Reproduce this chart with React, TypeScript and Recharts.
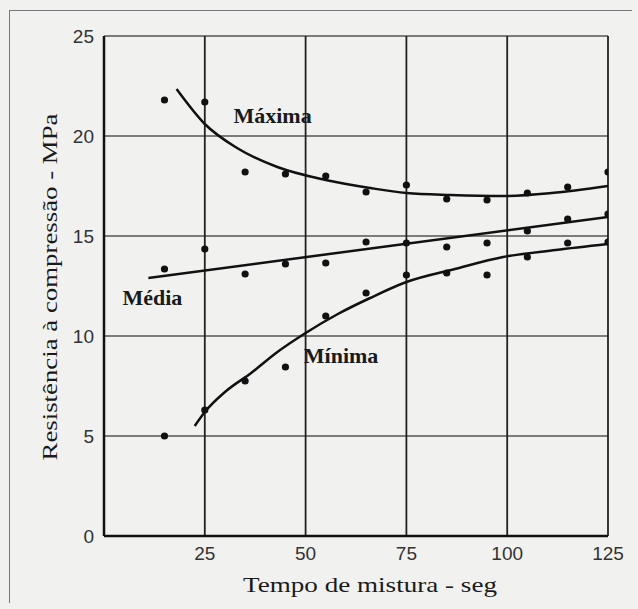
import React from "react";
import {
  ComposedChart,
  Line,
  Scatter,
  XAxis,
  YAxis,
  CartesianGrid,
  ReferenceDot,
} from "recharts";

// measured mixing times (s)
const tempos = [15, 25, 35, 45, 55, 65, 75, 85, 95, 105, 115, 125];

// compressive strength readings (MPa)
const maxima = [21.8, 21.7, 18.2, 18.1, 18.0, 17.2, 17.55, 16.85, 16.8, 17.15, 17.45, 18.2];
const media = [13.35, 14.35, 13.1, 13.6, 13.65, 14.7, 14.65, 14.45, 14.65, 15.25, 15.85, 16.1];
const minima = [5.0, 6.3, 7.75, 8.45, 11.0, 12.15, 13.05, 13.15, 13.05, 13.95, 14.65, 14.7];

// fitted curves
const maxCurveX = [18, 25, 33, 43, 55, 66, 75, 86, 99, 111, 125];
const maxCurveY = [22.35, 20.6, 19.4, 18.45, 17.8, 17.4, 17.15, 17.05, 17.0, 17.15, 17.5];
const medCurveX = [11, 125];
const medCurveY = [12.9, 15.95];
const minCurveX = [22.5, 25, 30, 36.5, 43, 50, 58, 66, 75, 87, 99, 112, 125];
const minCurveY = [5.5, 6.2, 7.2, 8.15, 9.2, 10.15, 11.1, 11.9, 12.7, 13.35, 13.95, 14.3, 14.6];

const xTicks = [25, 50, 75, 100, 125];
const yTicks = [0, 5, 10, 15, 20, 25];

const pts = (xs: number[], ys: number[]) => xs.map((x, i) => ({ x, y: ys[i] }));

const serif = "'Liberation Serif', 'Times New Roman', serif";
const sans = "'Liberation Sans', Arial, sans-serif";

const Dot = (props: any) => <circle cx={props.cx} cy={props.cy} r={3.6} fill="#111" />;

const seriesLabel = (value: string) => ({
  value,
  position: "center" as const,
  fill: "#1a1a1a",
  fontFamily: serif,
  fontSize: 22,
  fontWeight: 700,
});

// axis titles are set a little wider than the font's natural width
const XTitle = ({ viewBox }: any) => (
  <text
    x={viewBox.x + viewBox.width / 2 + 14}
    y={viewBox.y + 56}
    textAnchor="middle"
    fontFamily={serif}
    fontSize={21}
    fill="#1a1a1a"
    textLength={254}
    lengthAdjust="spacingAndGlyphs"
  >
    Tempo de mistura - seg
  </text>
);

const YTitle = ({ viewBox }: any) => {
  const x = 57;
  const y = viewBox.y + viewBox.height / 2 + 1;
  return (
    <text
      x={x}
      y={y}
      transform={`rotate(-90, ${x}, ${y})`}
      textAnchor="middle"
      fontFamily={serif}
      fontSize={22}
      fill="#1a1a1a"
      textLength={347}
      lengthAdjust="spacingAndGlyphs"
    >
      Resistência à compressão - MPa
    </text>
  );
};

export default function App() {
  return (
    <div
      style={{
        position: "absolute",
        left: 0,
        top: 0,
        width: 638,
        height: 609,
        background: "#f1f1f0",
      }}
    >
      <div
        style={{
          position: "absolute",
          left: 9,
          top: 10,
          width: 622,
          height: 592,
          borderLeft: "1px solid #777",
          borderTop: "1px solid #777",
        }}
      />
      <ComposedChart
        width={638}
        height={609}
        margin={{ top: 36, right: 30, left: 64, bottom: 43 }}
        style={{ position: "absolute", left: 0, top: 0 }}
      >
        <CartesianGrid
          stroke="#555"
          strokeWidth={1.3}
          vertical={false}
          horizontalValues={[5, 10, 15, 20, 25]}
        />
        <CartesianGrid
          stroke="#222"
          strokeWidth={1.8}
          horizontal={false}
          verticalValues={[25, 50, 75, 100, 125]}
        />
        <XAxis
          dataKey="x"
          type="number"
          domain={[0, 125]}
          ticks={xTicks}
          allowDataOverflow
          height={30}
          axisLine={{ stroke: "#111", strokeWidth: 2.5 }}
          tickLine={false}
          tick={{ fill: "#333", fontSize: 19, fontFamily: sans }}
          tickMargin={5}
          label={<XTitle />}
        />
        <YAxis
          type="number"
          domain={[0, 25]}
          ticks={yTicks}
          allowDataOverflow
          width={40}
          axisLine={{ stroke: "#111", strokeWidth: 2.5 }}
          tickLine={false}
          tick={{ fill: "#333", fontSize: 19, fontFamily: sans }}
          tickMargin={4}
          label={<YTitle />}
        />

        <Line
          data={pts(maxCurveX, maxCurveY)}
          dataKey="y"
          type="monotone"
          stroke="#111"
          strokeWidth={2.5}
          dot={false}
          isAnimationActive={false}
        />
        <Line
          data={pts(medCurveX, medCurveY)}
          dataKey="y"
          type="linear"
          stroke="#111"
          strokeWidth={2.5}
          dot={false}
          isAnimationActive={false}
        />
        <Line
          data={pts(minCurveX, minCurveY)}
          dataKey="y"
          type="monotone"
          stroke="#111"
          strokeWidth={2.5}
          dot={false}
          isAnimationActive={false}
        />

        <Scatter data={pts(tempos, maxima)} dataKey="y" shape={Dot} isAnimationActive={false} />
        <Scatter data={pts(tempos, media)} dataKey="y" shape={Dot} isAnimationActive={false} />
        <Scatter data={pts(tempos, minima)} dataKey="y" shape={Dot} isAnimationActive={false} />

        <ReferenceDot x={41.8} y={21.05} r={0} label={seriesLabel("Máxima")} />
        <ReferenceDot x={12} y={11.95} r={0} label={seriesLabel("Média")} />
        <ReferenceDot x={58.8} y={9.05} r={0} label={seriesLabel("Mínima")} />
      </ComposedChart>
    </div>
  );
}
